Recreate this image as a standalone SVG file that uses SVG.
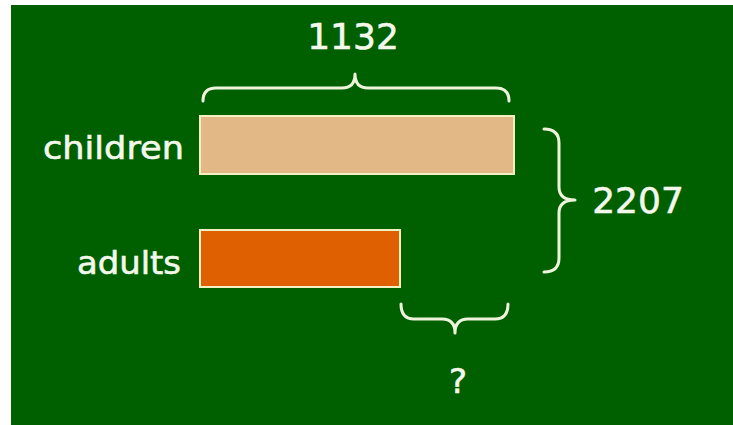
<svg xmlns="http://www.w3.org/2000/svg" width="733" height="425" viewBox="0 0 733 425">
<style>
.t{font-family:"DejaVu Sans",Verdana,sans-serif;fill:#f4f8ec;stroke:#f4f8ec;stroke-width:0.6;}
.br{fill:none;stroke:#eef4dc;stroke-width:3;stroke-linecap:round;stroke-linejoin:round;}
.bar{stroke:#f2f0c0;stroke-width:2;}
</style>
<rect x="0" y="0" width="733" height="425" fill="#ffffff"/>
<rect x="11" y="5" width="722" height="420" fill="#006000"/>
<g id="children">
<rect class="bar" x="200" y="116" width="314" height="58" fill="#e3b887"/>
<text class="t" x="43" y="159" font-size="31.5" textLength="141" lengthAdjust="spacingAndGlyphs">children</text>
</g>
<g id="adults">
<rect class="bar" x="200" y="230" width="200" height="57" fill="#df6000"/>
<text class="t" x="77" y="274" font-size="31.5" textLength="104" lengthAdjust="spacingAndGlyphs">adults</text>
</g>
<g id="connectors">
<path class="br" d="M203 101 Q203 88 216 88 L342 88 Q355 88 355 74 Q355 88 368 88 L496 88 Q509 88 509 101"/>
<path class="br" d="M544 129 Q559 129 559 143 L559 187 Q559 200 575 200 Q559 200 559 213 L559 258 Q559 272 544 272"/>
<path class="br" d="M401 304 Q401 319 414 319 L442 319 Q455 319 455 333 Q455 319 468 319 L495 319 Q508 319 508 304"/>
</g>
<g id="label-1132"><text class="t" x="353" y="49" font-size="36" text-anchor="middle">1132</text></g>
<g id="label-2207"><text class="t" x="638" y="213" font-size="36" text-anchor="middle">2207</text></g>
<g id="label-q"><text class="t" x="458" y="393" font-size="34" text-anchor="middle">?</text></g>
</svg>
